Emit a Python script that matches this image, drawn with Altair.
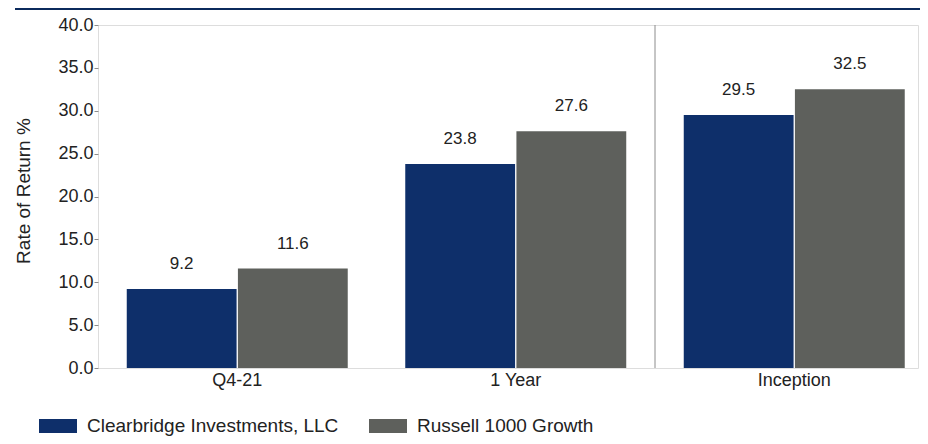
import altair as alt
import pandas as pd

periods = ["Q4-21", "1 Year", "Inception"]
series = ["Clearbridge Investments, LLC", "Russell 1000 Growth"]
clearbridge = [9.2, 23.8, 29.5]
russell = [11.6, 27.6, 32.5]
colors = ["#0e2f6a", "#5e605c"]
y_ticks = [0, 5, 10, 15, 20, 25, 30, 35, 40]

rows = []
for i, p in enumerate(periods):
    rows.append({"Period": p, "Series": series[0], "Value": clearbridge[i]})
    rows.append({"Period": p, "Series": series[1], "Value": russell[i]})
df = pd.DataFrame(rows)

FONT = "Liberation Sans, Arial"
W, H = 820, 343
STEP = 278.5

x_enc = alt.X(
    "Period:N",
    sort=periods,
    scale=alt.Scale(range=[0, 3 * STEP], paddingInner=0.2065, paddingOuter=0.10325),
    axis=alt.Axis(
        title=None, labelAngle=0, ticks=False, domain=False, labelFont=FONT,
        labelFontSize=18, labelColor="#222222", labelPadding=3,
    ),
)
xoff = alt.XOffset("Series:N", sort=series, scale=alt.Scale(paddingInner=0.012))
y_enc = alt.Y(
    "Value:Q",
    scale=alt.Scale(domain=[0, 40], nice=False),
    axis=alt.Axis(
        title="Rate of Return %", values=y_ticks, format=".1f", grid=False, domain=False,
        labelFont=FONT, labelFontSize=18, labelColor="#222222", tickSize=4,
        tickColor="#8c8c8c", labelPadding=1,
        titleFont=FONT, titleFontSize=19, titleFontWeight="normal",
        titleColor="#222222", titleX=-65, titleY=H / 2 - 6, titleAngle=-90,
    ),
)

bars = alt.Chart(df).mark_bar().encode(
    x=x_enc,
    xOffset=xoff,
    y=y_enc,
    color=alt.Color(
        "Series:N", sort=series, scale=alt.Scale(domain=series, range=colors),
        legend=alt.Legend(
            title=None, orient="none", legendX=-59, legendY=382, direction="horizontal",
            columns=2, columnPadding=30, padding=0,
            symbolType="M-1,-0.37 L1,-0.37 L1,0.37 L-1,0.37 Z", symbolSize=1444,
            symbolStrokeWidth=0, symbolOpacity=1, symbolOffset=0,
            labelFont=FONT, labelFontSize=19, labelColor="#222222",
            labelLimit=400, labelOffset=10,
        ),
    ),
)

labels = alt.Chart(df).mark_text(
    baseline="middle", dy=-25, font=FONT, fontSize=17, color="#222222"
).encode(
    x=alt.X("Period:N", sort=periods),
    xOffset=alt.XOffset("Series:N", sort=series),
    y="Value:Q",
    text=alt.Text("Value:Q", format=".1f"),
)

divider = alt.Chart(pd.DataFrame({"Period": ["Inception"]})).mark_rule(
    color="#8c8c8c", strokeWidth=1, xOffset=-28.75
).encode(
    x=alt.X("Period:N", sort=periods, bandPosition=0),
    y=alt.value(0),
    y2=alt.value(H),
)

strip = alt.Chart(pd.DataFrame({"k": [0]})).mark_rect(color="#0b2a5c").encode(
    x=alt.value(-83), x2=alt.value(W + 2), y=alt.value(-17), y2=alt.value(-15)
)

chart = (
    alt.layer(bars, labels, divider, strip)
    .properties(
        width=W, height=H,
        autosize=alt.AutoSizeParams(type="none"),
        padding={"left": 90, "top": 17, "right": 2, "bottom": 68},
    )
    .configure_view(stroke="#8c8c8c", strokeWidth=1)
    .configure(background="white")
)

chart.save("out.html", embed_options={"renderer": "svg", "actions": False})
